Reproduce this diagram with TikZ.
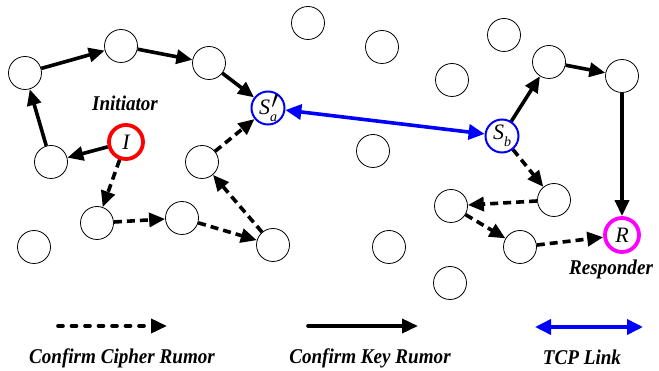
\documentclass[tikz,border=0pt]{standalone}
\usepackage{fontspec}
\setmainfont{Liberation Serif}
\usetikzlibrary{arrows.meta}
\definecolor{respmagenta}{RGB}{255,0,255}
% slightly condensed caption text
\newcommand{\narrowtext}[1]{\scalebox{0.91}[1]{#1}}
\begin{document}
\begin{tikzpicture}[x=1pt,y=-1pt,
  peer/.style={circle,draw,line width=0.8pt,minimum size=33pt,inner sep=0pt,
    font=\fontsize{22}{22}\selectfont\itshape},
  server/.style={peer,draw=blue,line width=2pt},
  initiator/.style={peer,draw=red,line width=3.8pt,minimum size=34pt},
  responder/.style={peer,draw=respmagenta,line width=3.8pt,minimum size=34pt},
  keyrumor/.style={line width=3.6pt,-{Triangle[length=16pt,width=14pt]}},
  cipherrumor/.style={keyrumor,dash pattern=on 8pt off 5pt},
  tcplink/.style={draw=blue,line width=3.6pt,
    {Triangle[length=16pt,width=15pt]}-{Triangle[length=16pt,width=15pt]}},
  caption/.style={font=\fontsize{21}{22}\selectfont\bfseries\itshape},
]
\useasboundingbox (0,0) rectangle (659,371);

% initiator side
\node[initiator] (I) at (126,142) {I};
\node[peer] (a1) at (51,162) {};
\node[peer] (a2) at (25,73) {};
\node[peer] (a3) at (121,46) {};
\node[peer] (a4) at (209,63) {};
\node[server] (Sa) at (268,108) {S\rlap{\raisebox{0.28em}{\kern0.06em\fontsize{24}{24}\selectfont$\prime$}}\raisebox{-0.32em}{\fontsize{14}{14}\selectfont a}};
\node[peer] (c1) at (97,223) {};
\node[peer] (c2) at (182,218) {};
\node[peer] (c3) at (273,245) {};
\node[peer] (c4) at (202,162) {};

% responder side
\node[server] (Sb) at (502,136) {S\raisebox{-0.32em}{\fontsize{14}{14}\selectfont b}};
\node[peer] (b1) at (549,62) {};
\node[peer] (b2) at (622,76) {};
\node[responder] (R) at (622,235) {R};
\node[peer] (d1) at (554,200) {};
\node[peer] (d2) at (451,206) {};
\node[peer] (d3) at (520,247) {};

% idle peers
\node[peer] (n1) at (308,23) {};
\node[peer] (n2) at (382,47) {};
\node[peer] (n3) at (452,80) {};
\node[peer] (n4) at (504,35) {};
\node[peer] (n5) at (373,151) {};
\node[peer] (n6) at (34,247) {};
\node[peer] (n7) at (389,247) {};
\node[peer] (n8) at (450,283) {};

% labels
\node[caption] (li) at (125,103) {\narrowtext{Initiator}};
\node[caption] (lr) at (611,269) {\narrowtext{Responder}};

% key rumor paths
\draw[keyrumor] (I) -- (a1);
\draw[keyrumor] (a1) -- (a2);
\draw[keyrumor] (a2) -- (a3);
\draw[keyrumor] (a3) -- (a4);
\draw[keyrumor] (a4) -- (Sa);
\draw[keyrumor] (Sb) -- (b1);
\draw[keyrumor] (b1) -- (b2);
\draw[keyrumor] (b2) -- (R);

% cipher rumor paths
\draw[cipherrumor] (I) -- (c1);
\draw[cipherrumor] (c1) -- (c2);
\draw[cipherrumor] (c2) -- (c3);
\draw[cipherrumor] (c3) -- (c4);
\draw[cipherrumor] (c4) -- (Sa);
\draw[cipherrumor] (Sb) -- (d1);
\draw[cipherrumor] (d1) -- (d2);
\draw[cipherrumor] (d2) -- (d3);
\draw[cipherrumor] (d3) -- (R);

% TCP link between the servers
\draw[tcplink] (Sa) -- (Sb);

% legend
\coordinate (k1s) at (58,326);
\coordinate (k1e) at (167,326);
\coordinate (k2s) at (308,326);
\coordinate (k2e) at (418,326);
\coordinate (k3s) at (535,327);
\coordinate (k3e) at (643,327);
\draw[cipherrumor,line cap=round,dash pattern=on 5pt off 8.5pt] (k1s) -- (k1e);
\draw[keyrumor,line cap=round] (k2s) -- (k2e);
\draw[tcplink] (k3s) -- (k3e);
\node[caption] (t1) at (122,358) {\narrowtext{Confirm Cipher Rumor}};
\node[caption] (t2) at (370,358) {\narrowtext{Confirm Key Rumor}};
\node[caption] (t3) at (582,357) {\narrowtext{TCP Link}};
\end{tikzpicture}
\end{document}
